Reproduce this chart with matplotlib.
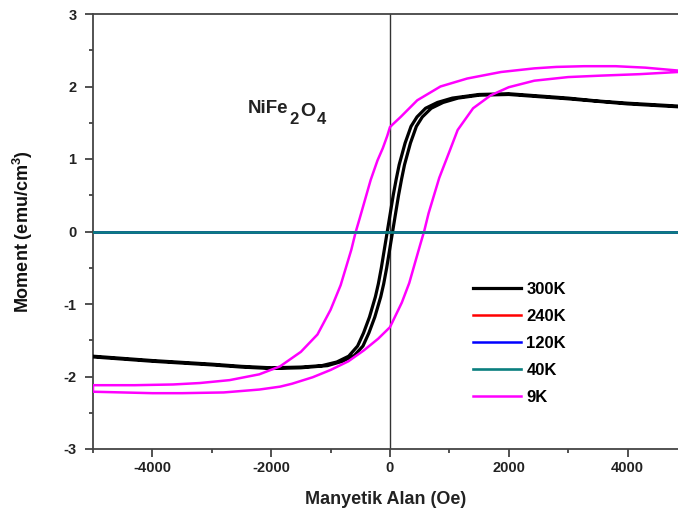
import matplotlib
matplotlib.use("Agg")
import matplotlib.pyplot as plt
from matplotlib.ticker import MultipleLocator

plt.rcParams['font.family'] = ['Liberation Sans', 'DejaVu Sans']
plt.rcParams['font.weight'] = 'bold'
plt.rcParams['axes.unicode_minus'] = False
plt.rcParams['mathtext.fontset'] = 'custom'
plt.rcParams['mathtext.rm'] = 'Liberation Sans:bold'
plt.rcParams['mathtext.bf'] = 'Liberation Sans:bold'
plt.rcParams['mathtext.it'] = 'Liberation Sans:bold'

### data (Oe, emu/cm3)
# 300K - descending field branch
k300_up_H = [4850, 4000, 3500, 3000, 2500, 2000, 1500, 1050, 800, 600, 455, 355, 255, 155, 105, 55, 5,
             -45, -95, -145, -195, -245, -345, -445, -545, -695, -895, -1145, -1500, -2000, -2500, -3000,
             -4000, -5000]
k300_up_M = [1.73, 1.77, 1.80, 1.84, 1.87, 1.90, 1.89, 1.84, 1.78, 1.70, 1.58, 1.45, 1.22, 0.92, 0.72, 0.50, 0.25,
             0.0, -0.25, -0.50, -0.72, -0.90, -1.18, -1.40, -1.58, -1.72, -1.80, -1.85, -1.87, -1.88, -1.86, -1.83,
             -1.78, -1.72]
# 300K - ascending field branch
k300_dn_H = [-5000, -4000, -3000, -2500, -2000, -1500, -1050, -800, -600, -455, -355, -255, -155, -105, -55, -5,
             45, 95, 145, 195, 245, 345, 445, 545, 695, 895, 1145, 1500, 2000, 2500, 3000, 4000, 4850]
k300_dn_M = [-1.73, -1.79, -1.84, -1.87, -1.89, -1.88, -1.85, -1.79, -1.71, -1.58, -1.40, -1.18, -0.90, -0.72, -0.50, -0.25,
             0.0, 0.25, 0.50, 0.72, 0.92, 1.22, 1.45, 1.58, 1.70, 1.78, 1.84, 1.88, 1.89, 1.86, 1.83, 1.76, 1.72]

# 240K, 120K, 40K lie on zero
flat_H = [-5000, 4850]
k240_M = [0.0, 0.0]
k120_M = [0.0, 0.0]
k40_M = [0.0, 0.0]

# 9K - descending field branch
k9_up_H = [4850, 4300, 3800, 3270, 2800, 2430, 1870, 1300, 850, 460, 180, 50, 0, -45, -120, -210, -325, -440,
           -510, -578, -650, -830, -1000, -1220, -1500, -1850, -2200, -2700, -3200, -3650, -4300, -5000]
k9_up_M = [2.22, 2.26, 2.28, 2.28, 2.27, 2.25, 2.20, 2.11, 2.00, 1.81, 1.58, 1.48, 1.44, 1.32, 1.15, 0.98, 0.71, 0.38,
           0.18, -0.01, -0.25, -0.74, -1.08, -1.42, -1.66, -1.86, -1.97, -2.05, -2.09, -2.11, -2.12, -2.12]
# 9K - ascending field branch
k9_dn_H = [-5000, -4500, -4000, -3500, -2800, -2200, -1850, -1650, -1300, -1000, -700, -440, -200, 0, 200, 325,
           440, 510, 578, 650, 830, 1000, 1140, 1400, 1700, 2000, 2430, 3000, 3550, 4200, 4850]
k9_dn_M = [-2.21, -2.22, -2.23, -2.23, -2.22, -2.18, -2.14, -2.10, -2.01, -1.91, -1.79, -1.64, -1.48, -1.32, -0.98, -0.71,
           -0.38, -0.18, 0.01, 0.25, 0.74, 1.10, 1.40, 1.70, 1.88, 1.99, 2.08, 2.13, 2.15, 2.17, 2.20]

labels = ['300K', '240K', '120K', '40K', '9K']
colors = ['black', '#ff0000', '#0000ff', '#0a7f7f', '#ff00ff']

### plot
fig = plt.figure(figsize=(6.78, 5.27), dpi=100)
ax = fig.add_axes([93/678, 1 - 449/527, 585/678, 435/527])

ax.axvline(0, color='#333333', lw=1.0, zorder=1)

ax.plot(k300_up_H + k300_dn_H, k300_up_M + k300_dn_M, color=colors[0], lw=2.3, label=labels[0], zorder=3)
ax.plot(flat_H, k240_M, color=colors[1], lw=1.8, label=labels[1], zorder=2)
ax.plot(flat_H, k120_M, color=colors[2], lw=1.8, label=labels[2], zorder=2)
ax.plot(k9_up_H + k9_dn_H, k9_up_M + k9_dn_M, color=colors[4], lw=1.8, label=labels[4], zorder=4)
ax.plot(flat_H, k40_M, color=colors[3], lw=1.9, label=labels[3], zorder=5)

ax.set_xlim(-5000, 4850)
ax.set_ylim(-3, 3)

ax.xaxis.set_major_locator(MultipleLocator(2000))
ax.xaxis.set_minor_locator(MultipleLocator(1000))
ax.yaxis.set_major_locator(MultipleLocator(1))
ax.yaxis.set_minor_locator(MultipleLocator(0.5))
ax.tick_params(which='major', direction='out', length=6, width=1.2, labelsize=10.5, colors='#333333',
               labelcolor='#222222')
ax.tick_params(axis='x', which='major', pad=3)
ax.tick_params(axis='y', which='major', pad=6)
ax.tick_params(which='minor', direction='out', length=3, width=1.2, colors='#333333')
ax.tick_params(top=False, right=False)

for side in ['left', 'bottom', 'top']:
    ax.spines[side].set_color('#444444')
    ax.spines[side].set_linewidth(1.3)
ax.spines['right'].set_visible(False)

ax.set_xlabel('Manyetik Alan (Oe)', fontsize=13, fontweight='bold', color='#222222', labelpad=11)
ax.set_ylabel('Moment (emu/cm$^{3}$)', fontsize=13, fontweight='bold', color='#111111', labelpad=20)

# sample name, written piece by piece so the subscripts stay large
t = ax.text((248 - 93) / 585, (449 - 113) / 435, 'NiFe', transform=ax.transAxes, fontsize=13.5,
            fontweight='bold', color='#222222', ha='left', va='baseline')
t = ax.annotate('2', xy=(1, 0), xycoords=t, xytext=(0.5, -5), textcoords='offset points',
                fontsize=12, fontweight='bold', color='#222222', ha='left', va='baseline')
t = ax.annotate('O', xy=(1, 0), xycoords=t, xytext=(1, 5), textcoords='offset points',
                fontsize=14, fontweight='bold', color='#222222', ha='left', va='bottom')
ax.annotate('4', xy=(1, 0), xycoords=t, xytext=(1, -5), textcoords='offset points',
            fontsize=12, fontweight='bold', color='#222222', ha='left', va='bottom')

# legend in reference order
h, l = ax.get_legend_handles_labels()
order = [l.index(s) for s in labels]
ax.legend([h[i] for i in order], labels, loc='upper left', bbox_to_anchor=(473/678, 1 - 282/527),
          bbox_transform=fig.transFigure, frameon=False, fontsize=12, handlelength=2.9,
          handletextpad=0.3, labelspacing=0.72, borderpad=0, borderaxespad=0)

fig.savefig('out.png', dpi=100)
